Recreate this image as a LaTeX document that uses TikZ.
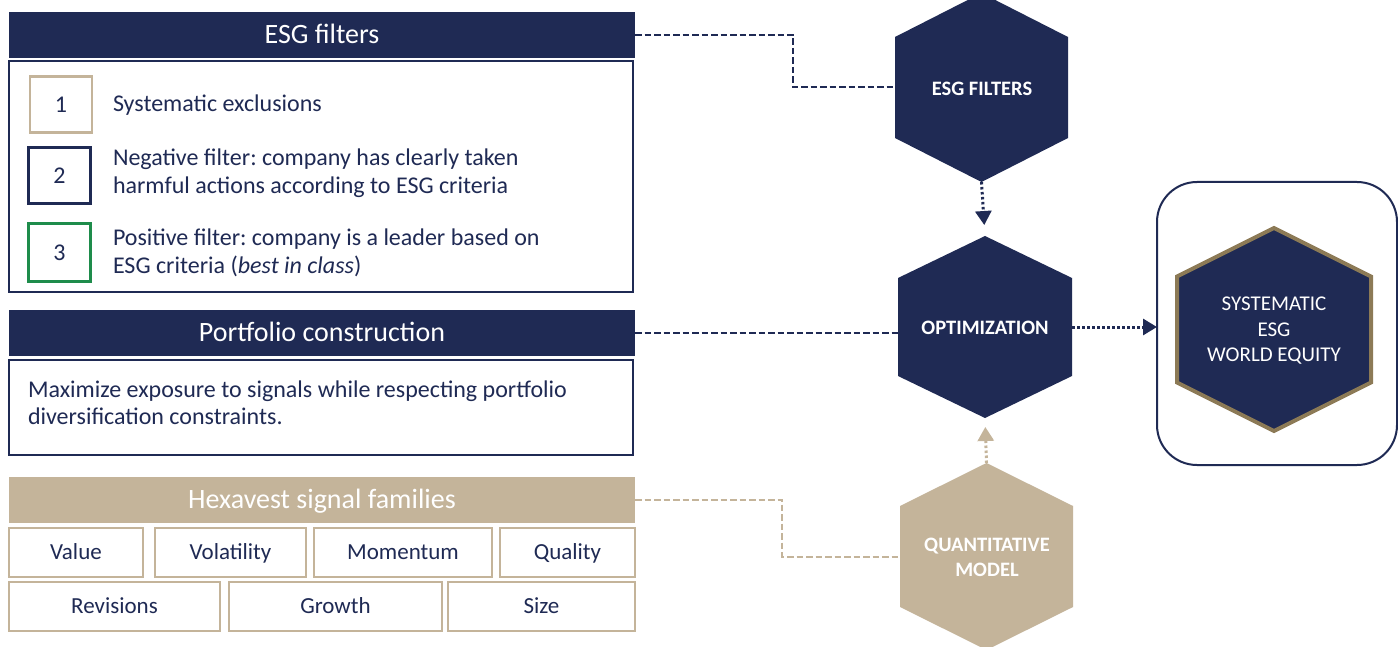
\documentclass[tikz,border=0pt]{standalone}
\usepackage{fontspec}
\setmainfont{Carlito}
\frenchspacing
\usetikzlibrary{arrows.meta,calc}
\definecolor{navy}{RGB}{31,42,84}
\definecolor{tan}{RGB}{196,180,154}
\definecolor{gold}{RGB}{140,122,86}
\definecolor{okgreen}{RGB}{30,140,75}
\newcommand\hexshape[7]{% name, style, cx, cy, half width, half side, half vertex
  \path[#2] ({#3},{#4-#7}) coordinate (#1-t) -- ({#3+#5},{#4-#6}) -- ({#3+#5},{#4+#6})
    -- ({#3},{#4+#7}) coordinate (#1-b) -- ({#3-#5},{#4+#6}) -- ({#3-#5},{#4-#6}) -- cycle;
  \coordinate (#1-l) at ({#3-#5},#4);
  \coordinate (#1-r) at ({#3+#5},#4);}
\tikzset{
  every node/.style={inner sep=0pt, outer sep=0pt},
  headbar/.style={fill=navy, text=white, minimum width=626pt, minimum height=46pt,
     text height=21pt, text depth=3pt, font=\fontsize{28}{34}\selectfont},
  tanbar/.style={headbar, fill=tan},
  bodybox/.style={draw=navy, line width=2pt, minimum width=624pt},
  numbox/.style={line width=2.5pt, text=navy, minimum width=62pt, minimum height=56pt,
     font=\fontsize{24}{28}\selectfont},
  itemtext/.style={anchor=west, align=left, text=navy,
     font=\fontsize{24}{27.5}\selectfont},
  sigbox/.style={draw=tan, line width=2pt, text=navy, minimum height=49pt,
     text height=17pt, text depth=2.5pt, font=\fontsize{23}{27}\selectfont},
  hexlabel/.style={text=white, align=center, font=\bfseries\fontsize{20.5}{25}\selectfont},
  navydash/.style={draw=navy, line width=2pt, dash pattern=on 6.5pt off 3pt},
  tandash/.style={draw=tan, line width=2pt, dash pattern=on 6.5pt off 3pt},
  dotarrow/.style={line width=3pt, dash pattern=on 2.5pt off 2.5pt,
     -{Triangle[width=16pt,length=14pt]}},
}
\begin{document}
\begin{tikzpicture}[x=1pt,y=-1pt]
\useasboundingbox[fill=white] (0,0) rectangle (1398,647);

% ---- left column ----
\node[headbar] (esghead) at (322,35) {ESG filters};
\node[bodybox, minimum height=231pt] (esgbody) at (321,176.5) {};
\node[numbox, draw=tan] (n1) at (61,104.5) {1};
\node[numbox, draw=navy] (n2) at (59.5,175.5) {2};
\node[numbox, draw=okgreen, minimum height=58pt] (n3) at (59.5,252.5) {3};
\node[itemtext] (t1) at (113,105) {Systematic exclusions};
\node[itemtext] (t2) at (113,173) {Negative filter: company has clearly taken\\harmful actions according to ESG criteria};
\node[itemtext] (t3) at (113,253) {Positive filter: company is a leader based on\\ESG criteria (\textit{best in class})};

\node[headbar] (pchead) at (322,332.5) {Portfolio construction};
\node[bodybox, minimum height=95pt] (pcbody) at (321,407.5) {};
\node[itemtext] (pctext) at (28,403) {Maximize exposure to signals while respecting portfolio\\diversification constraints.};

\node[tanbar] (hxhead) at (322,499.5) {Hexavest signal families};
\node[sigbox, minimum width=134pt] (s1) at (76,552.5) {Value};
\node[sigbox, minimum width=151pt] (s2) at (230.5,552.5) {Volatility};
\node[sigbox, minimum width=178pt] (s3) at (403,552.5) {Momentum};
\node[sigbox, minimum width=135pt] (s4) at (567.5,552.5) {Quality};
\node[sigbox, minimum width=211pt] (s5) at (114.5,606.5) {Revisions};
\node[sigbox, minimum width=213pt] (s6) at (335.5,606.5) {Growth};
\node[sigbox, minimum width=187pt] (s7) at (541.5,606.5) {Size};

% ---- hexagons ----
\hexshape{esg}{fill=navy}{981.5}{87.5}{86.5}{50.5}{94.5}
\node[hexlabel] (esglabel) at (982,89) {ESG FILTERS};
\hexshape{opt}{fill=navy}{985}{327}{87}{49}{91}
\node[hexlabel] (optlabel) at (985,328) {OPTIMIZATION};
\hexshape{qm}{fill=tan}{986.5}{556.5}{86.5}{50.5}{93.5}
\node[hexlabel] (qmlabel) at (987,557.5) {QUANTITATIVE\\MODEL};

\node[draw=navy, line width=2pt, rounded corners=40pt, minimum width=240pt,
      minimum height=283pt] (res) at (1277,323.5) {};
\hexshape{out}{fill=navy, draw=gold, line width=4pt}{1274}{329.5}{97}{53}{101.5}
\node[text=white, align=center, font=\fontsize{21}{25.5}\selectfont] (outlabel)
   at (1274,331) {SYSTEMATIC\\ESG\\WORLD EQUITY};

% ---- connectors ----
\draw[navydash] (esghead.east) -- ++(158,0) |- (esg-l);
\draw[navydash] (pchead.east) -- (pchead.east -| opt-l);
\draw[tandash] (hxhead.east) -- ++(147,0) |- (qm-l);
\draw[dotarrow, navy, shorten >=11pt] (esg-b) -- (opt-t);
\draw[dotarrow, tan, shorten >=9pt] (qm-t) -- (opt-b);
\draw[dotarrow, navy] (opt-r) -- (opt-r -| res.west);
\end{tikzpicture}
\end{document}
